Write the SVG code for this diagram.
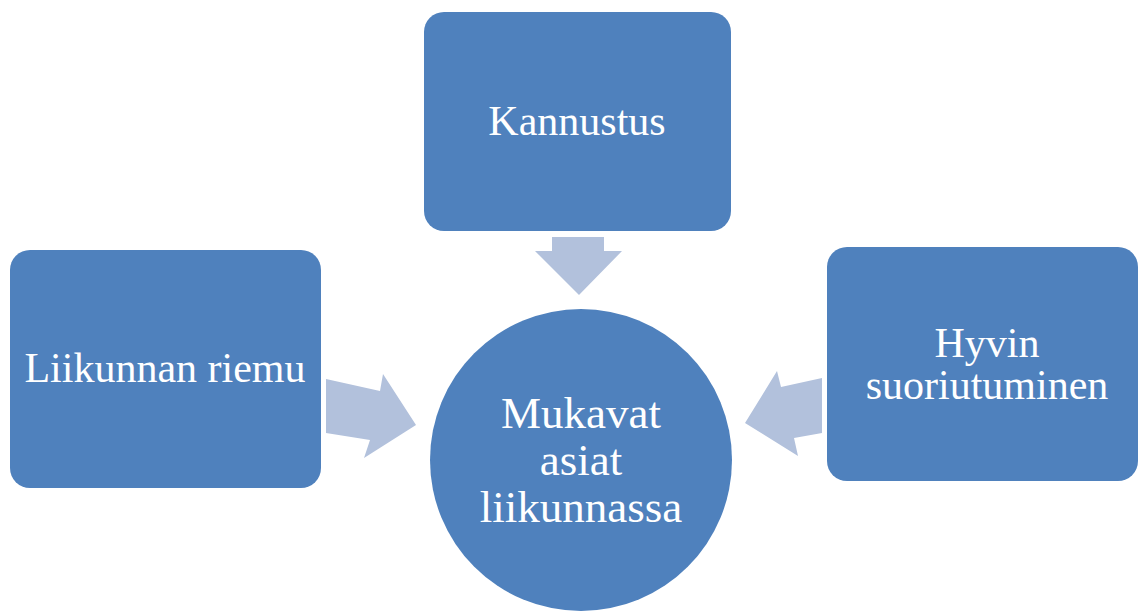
<svg xmlns="http://www.w3.org/2000/svg" width="1139" height="615" viewBox="0 0 1139 615">
  <style>
    .node { fill: #4F81BD; }
    .arrow { fill: #B2C1DC; }
    .label { font-family: "Liberation Serif", "Times New Roman", serif; fill: #FFFFFF; text-anchor: middle; }
  </style>
  <rect width="1139" height="615" fill="#FFFFFF"/>

  <g id="connectors">
    <!-- down arrow from Kannustus -->
    <polygon class="arrow" points="552,237 604,237 604,251 622,251 579,295 535,251 552,251"/>
    <!-- arrow from Liikunnan riemu -->
    <polygon class="arrow" points="326,379 380,391 383,374 416,425 364,458 370,440 326,433"/>
    <!-- arrow from Hyvin suoriutuminen -->
    <polygon class="arrow" points="822,378 781,387 777,371 745,423 798,456 794,438 822,433"/>
  </g>

  <g id="node-kannustus">
    <rect class="node" x="424" y="12" width="307" height="219" rx="20"/>
    <text class="label" x="577" y="135" font-size="42">Kannustus</text>
  </g>

  <g id="node-liikunnan-riemu">
    <rect class="node" x="10" y="250" width="311" height="238" rx="20"/>
    <text class="label" x="165" y="382" font-size="42">Liikunnan riemu</text>
  </g>

  <g id="node-hyvin-suoriutuminen">
    <rect class="node" x="827" y="247" width="311" height="234" rx="20"/>
    <text class="label" x="987" y="357" font-size="42">Hyvin</text>
    <text class="label" x="987" y="399" font-size="42">suoriutuminen</text>
  </g>

  <g id="node-mukavat-asiat">
    <circle class="node" cx="581" cy="460" r="151"/>
    <text class="label" x="581" y="428" font-size="45">Mukavat</text>
    <text class="label" x="581" y="475" font-size="45">asiat</text>
    <text class="label" x="581" y="522" font-size="45">liikunnassa</text>
  </g>
</svg>
